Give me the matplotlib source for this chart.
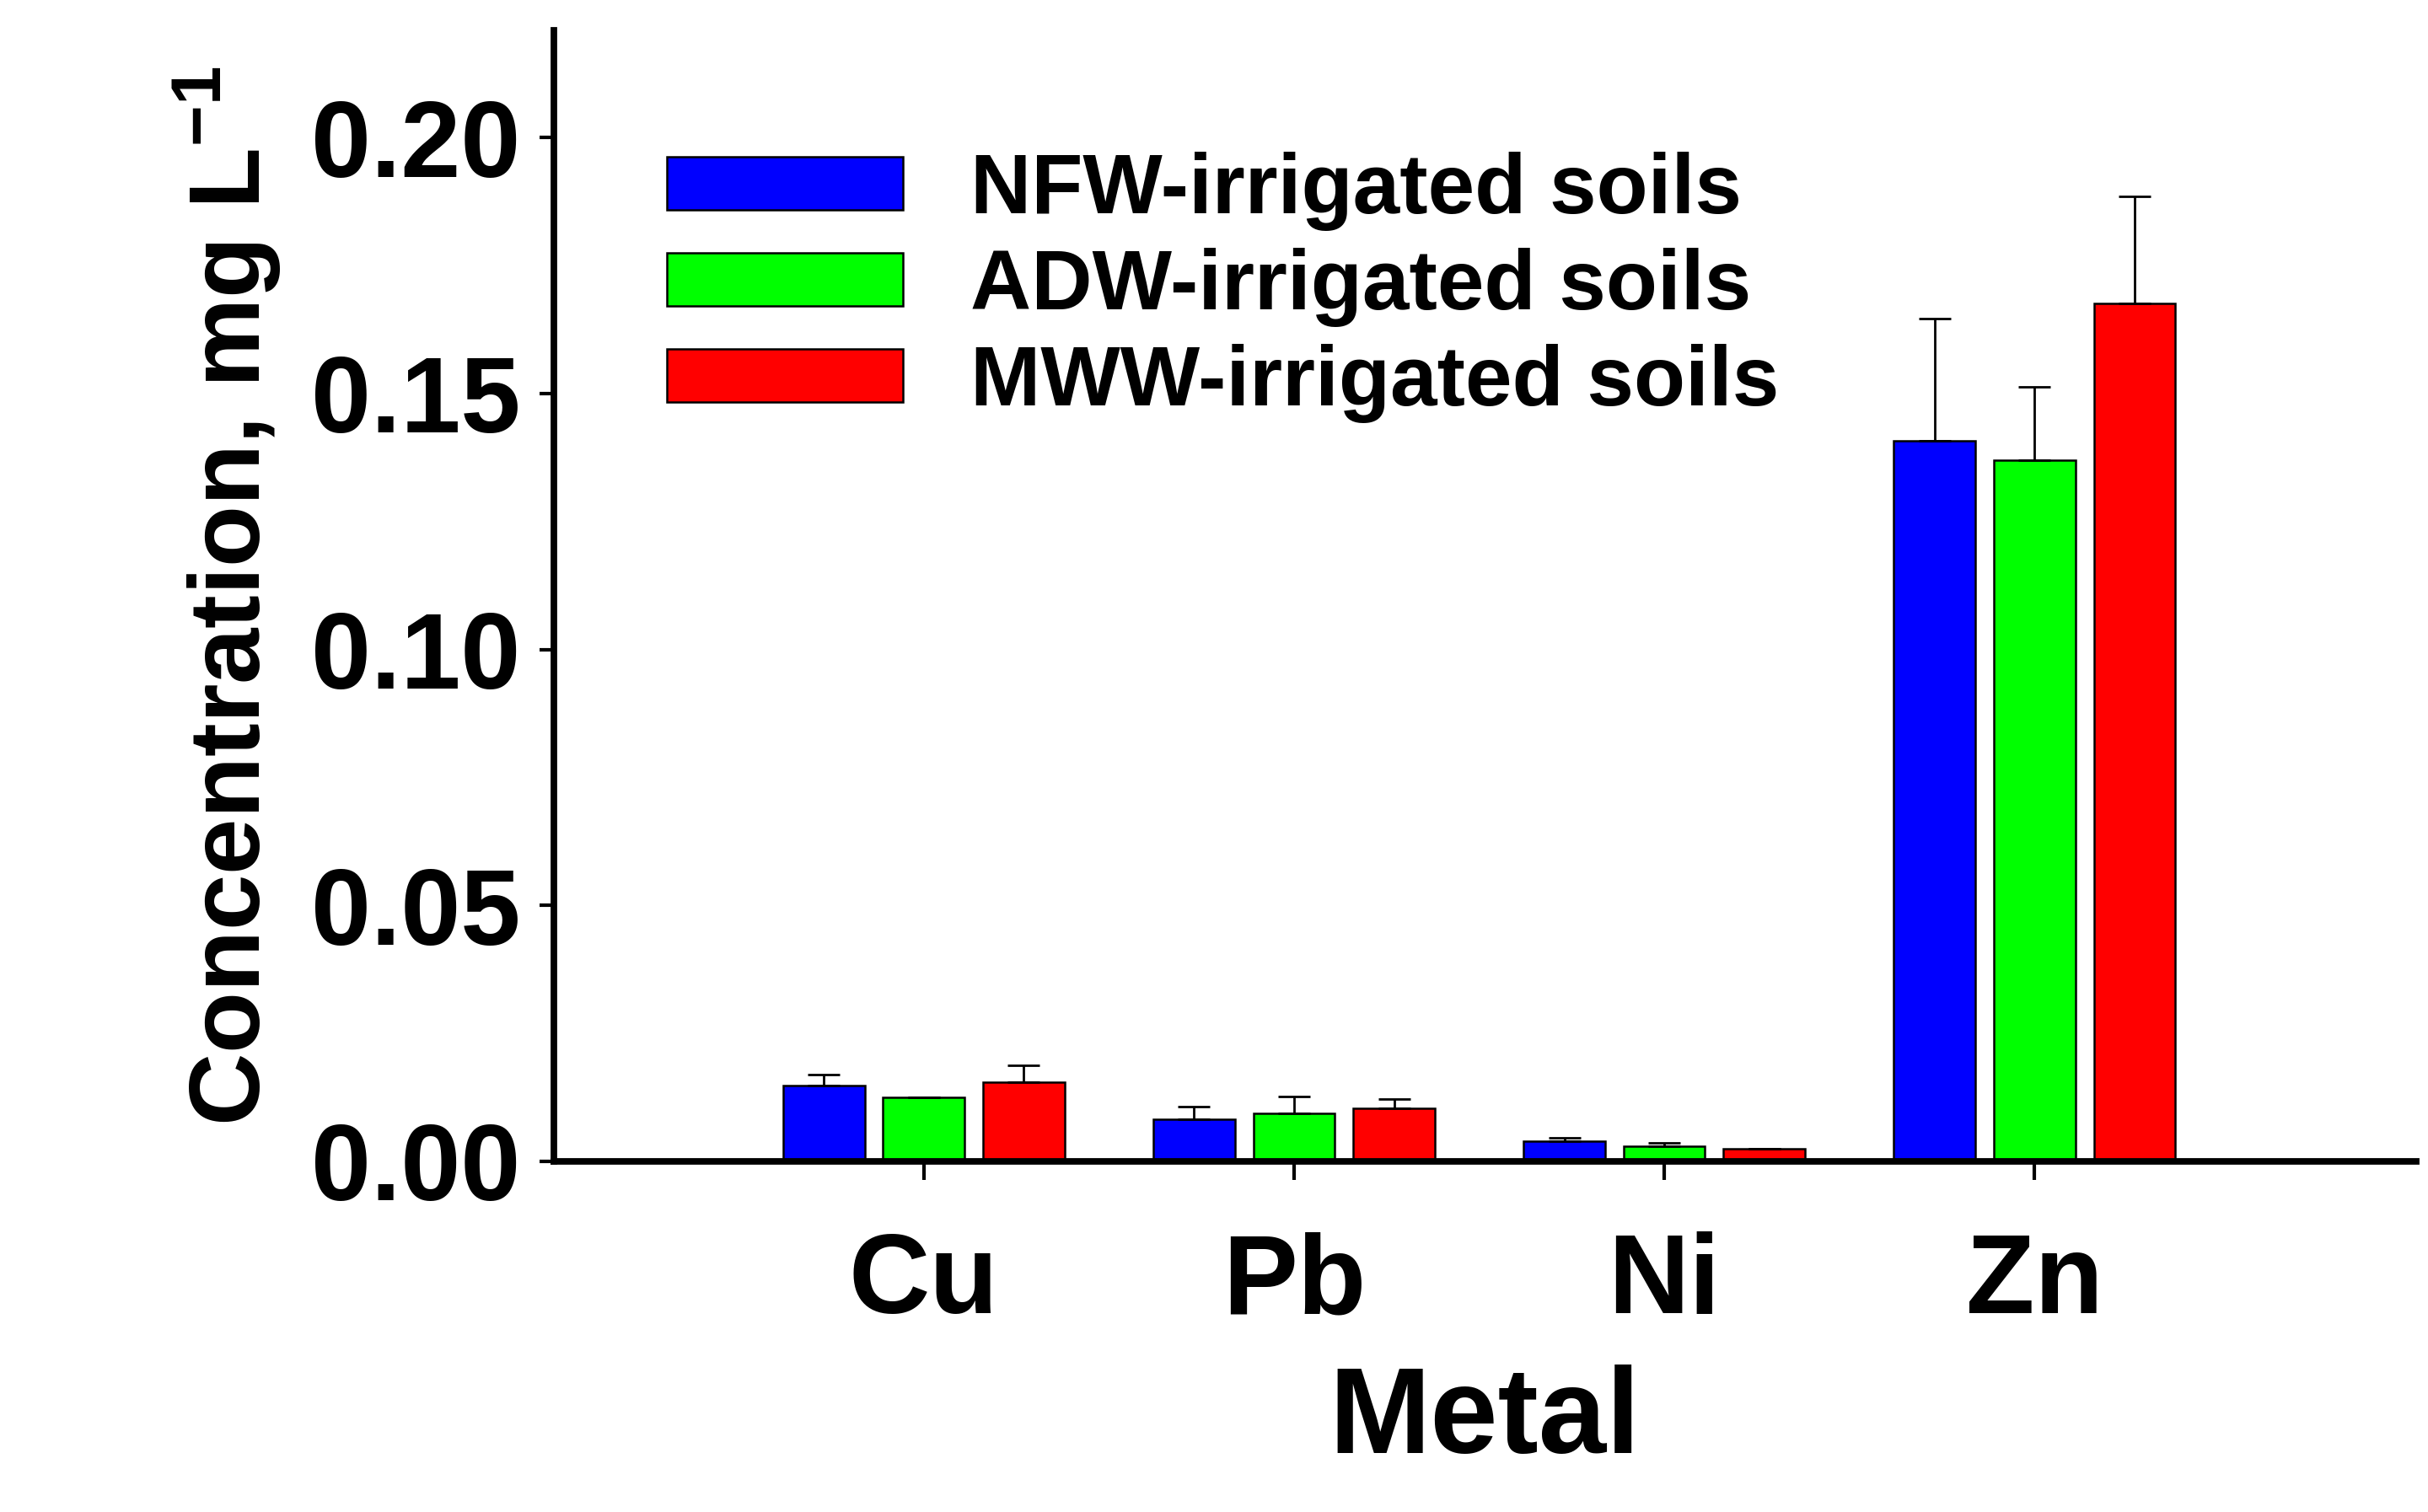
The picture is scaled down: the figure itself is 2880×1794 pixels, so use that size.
import matplotlib
matplotlib.use("Agg")
import matplotlib.pyplot as plt
import numpy as np

metals = ["Cu", "Pb", "Ni", "Zn"]
series = ["NFW-irrigated soils", "ADW-irrigated soils", "MWW-irrigated soils"]
colors = ["#0000ff", "#00ff00", "#ff0000"]
nfw = [0.0148, 0.0082, 0.0039, 0.1407]
adw = [0.0124, 0.0094, 0.0030, 0.1370]
mww = [0.0154, 0.0103, 0.0024, 0.1676]
nfw_err = [0.0022, 0.0024, 0.0006, 0.0239]
adw_err = [0.0000, 0.0033, 0.0006, 0.0143]
mww_err = [0.0034, 0.0018, 0.0001, 0.0209]

plt.rcParams['font.family'] = ['Liberation Sans', 'DejaVu Sans']
plt.rcParams['font.weight'] = 'bold'
plt.rcParams['mathtext.fontset'] = 'custom'
plt.rcParams['mathtext.bf'] = 'Liberation Sans:bold'
plt.rcParams['mathtext.rm'] = 'Liberation Sans:bold'

fig = plt.figure(figsize=(14.4, 8.97), dpi=200)
ax = fig.add_axes([0.228, 0.232, 0.767, 0.748])
x = np.arange(len(metals))
off = 0.27
w = 0.22
for i, (vals, errs) in enumerate(zip([nfw, adw, mww], [nfw_err, adw_err, mww_err])):
    ax.bar(x + (i - 1) * off, vals, w, color=colors[i], edgecolor='black', linewidth=0.9,
           yerr=[np.zeros(len(errs)), errs], error_kw=dict(ecolor='black', elinewidth=1.0, capsize=7, capthick=1.0),
           label=series[i], zorder=2)

ax.set_xlim(-1, 4.03)
ax.set_ylim(0, 0.221)
ax.set_yticks([0, 0.05, 0.10, 0.15, 0.20])
ax.set_yticklabels(["0.00", "0.05", "0.10", "0.15", "0.20"])
ax.set_xticks(x)
ax.set_xticklabels(metals)
for s in ['top', 'right']:
    ax.spines[s].set_visible(False)
for s in ['left', 'bottom']:
    ax.spines[s].set_linewidth(2.8)
ax.tick_params(axis='y', labelsize=46, width=1.5, length=6, direction='out', pad=8)
ax.tick_params(axis='x', labelsize=48, width=1.5, length=8, direction='out', pad=22)
ax.set_xlabel("Metal", fontsize=52, fontweight='bold', labelpad=12)
ax.set_ylabel(r"Concentration, mg L$^{\mathbf{-1}}$", fontsize=43, fontweight='bold', labelpad=12)
leg = ax.legend(loc='upper left', bbox_to_anchor=(0.02, 0.96), frameon=False, fontsize=36,
                handlelength=2.8, handleheight=0.6, labelspacing=0.2, handletextpad=0.8)
fig.savefig("out.png", dpi=200)
